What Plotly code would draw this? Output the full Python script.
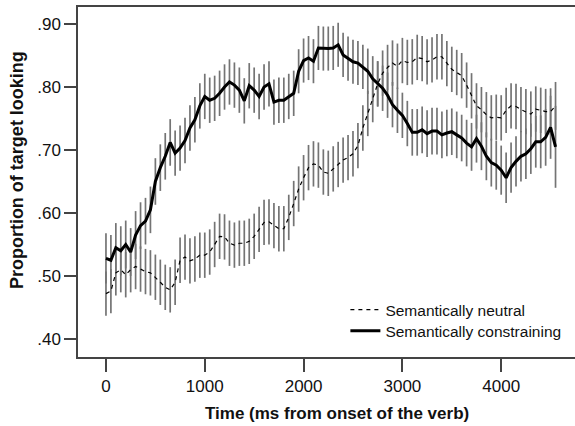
import plotly.graph_objects as go

time_ms = [0, 50, 100, 150, 200, 250, 300, 350, 400, 450,
           500, 550, 600, 650, 700, 750, 800, 850, 900, 950,
           1000, 1050, 1100, 1150, 1200, 1250, 1300, 1350, 1400, 1450,
           1500, 1550, 1600, 1650, 1700, 1750, 1800, 1850, 1900, 1950,
           2000, 2050, 2100, 2150, 2200, 2250, 2300, 2350, 2400, 2450,
           2500, 2550, 2600, 2650, 2700, 2750, 2800, 2850, 2900, 2950,
           3000, 3050, 3100, 3150, 3200, 3250, 3300, 3350, 3400, 3450,
           3500, 3550, 3600, 3650, 3700, 3750, 3800, 3850, 3900, 3950,
           4000, 4050, 4100, 4150, 4200, 4250, 4300, 4350, 4400, 4450,
           4500, 4550]

constraining = [0.528, 0.525, 0.545, 0.540, 0.550, 0.538, 0.565, 0.580, 0.587, 0.605,
                0.650, 0.672, 0.690, 0.712, 0.695, 0.703, 0.715, 0.735, 0.748, 0.770,
                0.785, 0.779, 0.782, 0.790, 0.800, 0.808, 0.803, 0.795, 0.778, 0.802,
                0.795, 0.785, 0.800, 0.805, 0.776, 0.779, 0.779, 0.785, 0.790, 0.825,
                0.842, 0.846, 0.841, 0.862, 0.861, 0.861, 0.862, 0.867, 0.851, 0.845,
                0.840, 0.838, 0.832, 0.825, 0.813, 0.805, 0.798, 0.787, 0.772, 0.763,
                0.755, 0.742, 0.728, 0.728, 0.732, 0.726, 0.730, 0.730, 0.724, 0.727,
                0.729, 0.724, 0.719, 0.711, 0.705, 0.718, 0.706, 0.690, 0.680, 0.676,
                0.668, 0.656, 0.672, 0.682, 0.690, 0.694, 0.702, 0.713, 0.713, 0.720,
                0.736, 0.705]

neutral = [0.472, 0.476, 0.505, 0.510, 0.502, 0.510, 0.515, 0.511, 0.507, 0.505,
           0.498, 0.490, 0.482, 0.478, 0.490, 0.525, 0.530, 0.524, 0.527, 0.533,
           0.533, 0.538, 0.550, 0.563, 0.562, 0.552, 0.549, 0.552, 0.552, 0.555,
           0.563, 0.574, 0.585, 0.586, 0.580, 0.575, 0.575, 0.593, 0.615, 0.638,
           0.656, 0.672, 0.678, 0.676, 0.665, 0.663, 0.670, 0.677, 0.684, 0.688,
           0.694, 0.707, 0.735, 0.758, 0.780, 0.805, 0.822, 0.831, 0.838, 0.833,
           0.842, 0.839, 0.840, 0.847, 0.845, 0.840, 0.843, 0.848, 0.848, 0.837,
           0.828, 0.823, 0.818, 0.803, 0.786, 0.770, 0.764, 0.756, 0.751, 0.752,
           0.751, 0.763, 0.770, 0.769, 0.764, 0.761, 0.757, 0.765, 0.763, 0.761,
           0.761, 0.770]

constraining_err = [0.040, 0.040, 0.039, 0.039, 0.038, 0.038, 0.038, 0.037, 0.037, 0.037,
                    0.037, 0.037, 0.037, 0.037, 0.036, 0.036, 0.036, 0.036, 0.036, 0.036,
                    0.036, 0.036, 0.036, 0.036, 0.036, 0.036, 0.036, 0.036, 0.036, 0.036,
                    0.036, 0.036, 0.036, 0.036, 0.036, 0.036, 0.036, 0.036, 0.036, 0.035,
                    0.035, 0.035, 0.035, 0.035, 0.035, 0.035, 0.035, 0.035, 0.035, 0.035,
                    0.035, 0.035, 0.035, 0.036, 0.036, 0.036, 0.036, 0.036, 0.036, 0.036,
                    0.036, 0.036, 0.037, 0.037, 0.037, 0.037, 0.037, 0.037, 0.037, 0.037,
                    0.037, 0.037, 0.037, 0.037, 0.038, 0.038, 0.038, 0.038, 0.038, 0.039,
                    0.039, 0.040, 0.040, 0.040, 0.040, 0.040, 0.040, 0.041, 0.042, 0.045,
                    0.050, 0.065]

neutral_err = [0.035, 0.035, 0.036, 0.036, 0.036, 0.036, 0.036, 0.036, 0.036, 0.036,
               0.036, 0.036, 0.036, 0.036, 0.036, 0.036, 0.036, 0.036, 0.036, 0.036,
               0.036, 0.036, 0.036, 0.036, 0.036, 0.036, 0.036, 0.036, 0.036, 0.036,
               0.036, 0.036, 0.036, 0.036, 0.036, 0.036, 0.036, 0.036, 0.036, 0.036,
               0.036, 0.036, 0.036, 0.036, 0.036, 0.036, 0.036, 0.036, 0.036, 0.036,
               0.036, 0.036, 0.036, 0.036, 0.036, 0.036, 0.036, 0.036, 0.036, 0.036,
               0.036, 0.036, 0.036, 0.036, 0.036, 0.036, 0.036, 0.036, 0.036, 0.036,
               0.036, 0.036, 0.036, 0.036, 0.036, 0.036, 0.036, 0.036, 0.036, 0.036,
               0.036, 0.036, 0.036, 0.036, 0.036, 0.036, 0.036, 0.036, 0.036, 0.036,
               0.037, 0.038]

y_tick_vals = [0.40, 0.50, 0.60, 0.70, 0.80, 0.90]
y_tick_text = [".40", ".50", ".60", ".70", ".80", ".90"]
x_tick_vals = [0, 1000, 2000, 3000, 4000]

FONT = "Arial, 'Liberation Sans', sans-serif"
BAR_COLOR = "#747474"
AXIS_COLOR = "#444"
TEXT_COLOR = "#111"

fig = go.Figure()

# error bars (drawn first so the lines sit on top)
for vals, errs in ((neutral, neutral_err), (constraining, constraining_err)):
    fig.add_trace(go.Scatter(
        x=time_ms, y=vals, mode="markers",
        marker=dict(size=0.1, color="rgba(0,0,0,0)"),
        error_y=dict(type="data", array=errs, visible=True,
                     color=BAR_COLOR, thickness=1.7, width=0),
        showlegend=False, hoverinfo="skip"))

fig.add_trace(go.Scatter(
    x=time_ms, y=neutral, mode="lines", name="Semantically neutral",
    line=dict(color="black", width=1.2, dash="4px,4px"), legend="legend"))
fig.add_trace(go.Scatter(
    x=time_ms, y=constraining, mode="lines", name="Semantically constraining",
    line=dict(color="black", width=3), legend="legend2"))

legend_common = dict(xanchor="left", yanchor="middle",
                     bgcolor="rgba(0,0,0,0)", borderwidth=0,
                     font=dict(family=FONT, size=15.5, color=TEXT_COLOR),
                     itemwidth=30)

fig.update_layout(
    width=575, height=426,
    margin=dict(l=78, r=0, t=7, b=69),
    paper_bgcolor="white", plot_bgcolor="white",
    font=dict(family=FONT, size=16, color=TEXT_COLOR),
    showlegend=True,
    legend=dict(x=0.538, y=0.134, **legend_common),
    legend2=dict(x=0.538, y=0.074, **legend_common),
    xaxis=dict(range=[-283, 4747], tickvals=x_tick_vals,
               showgrid=False, zeroline=False,
               showline=True, linecolor=AXIS_COLOR, linewidth=1.5, mirror=True,
               ticks="outside", ticklen=13, tickwidth=1.5, tickcolor=AXIS_COLOR,
               tickfont=dict(family=FONT, size=17, color=TEXT_COLOR)),
    yaxis=dict(range=[0.3714, 0.927], tickvals=y_tick_vals, ticktext=y_tick_text,
               showgrid=False, zeroline=False,
               showline=True, linecolor=AXIS_COLOR, linewidth=1.5, mirror=False,
               ticks="outside", ticklen=12, tickwidth=1.5, tickcolor=AXIS_COLOR,
               tickfont=dict(family=FONT, size=17, color=TEXT_COLOR)),
    annotations=[
        dict(text="<b>Time (ms from onset of the verb)</b>",
             xref="paper", yref="paper", x=0.521, y=-0.16,
             xanchor="center", yanchor="middle", showarrow=False,
             font=dict(family=FONT, size=17, color=TEXT_COLOR)),
        dict(text="<b>Proportion of target looking</b>",
             xref="paper", yref="paper", x=-0.1227, y=0.534,
             xanchor="center", yanchor="middle", showarrow=False, textangle=-90,
             font=dict(family=FONT, size=18, color=TEXT_COLOR)),
    ],
)

fig.write_html("out.html", config={"displayModeBar": False},
               post_script="document.body.style.margin='0px';")
